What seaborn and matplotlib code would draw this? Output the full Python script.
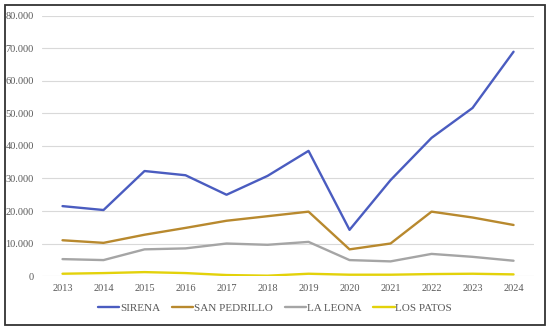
import pandas as pd
import matplotlib
matplotlib.use("Agg")
import matplotlib.pyplot as plt
import seaborn as sns
from matplotlib.ticker import FuncFormatter
from matplotlib.patches import Rectangle

years = [str(y) for y in range(2013, 2025)]
sirena = [21500, 20300, 32300, 31000, 25000, 30800, 38500, 14200, 29500, 42500, 51700, 69000]
san_pedrillo = [11000, 10200, 12700, 14800, 17000, 18400, 19800, 8200, 10000, 19800, 18000, 15700]
la_leona = [5200, 4900, 8200, 8500, 10000, 9600, 10500, 4900, 4500, 6800, 5900, 4700]
los_patos = [700, 900, 1200, 900, 300, 100, 700, 400, 400, 600, 700, 500]

series = ["SIRENA", "SAN PEDRILLO", "LA LEONA", "LOS PATOS"]
colors = ["#4a5cc0", "#b8892e", "#a5a5a5", "#e3d20a"]

df = pd.DataFrame({"year": years * 4,
                   "value": sirena + san_pedrillo + la_leona + los_patos,
                   "station": sum([[s] * len(years) for s in series], [])})

sns.set_theme(style="white")
plt.rcParams["font.family"] = ["Liberation Serif", "DejaVu Serif"]

fig = plt.figure(figsize=(5.5, 3.3), dpi=100)
ax = fig.add_axes([0.0764, 0.1636, 0.8946, 0.788])

sns.lineplot(data=df, x="year", y="value", hue="station", palette=colors,
             linewidth=1.7, ax=ax, legend=True)

ax.set_xlim(-0.5, 11.5)
ax.set_ylim(0, 80000)
ax.set_yticks(range(0, 80001, 10000))
ax.yaxis.set_major_formatter(FuncFormatter(lambda v, p: f"{int(v):,}".replace(",", ".")))
ax.grid(axis="y", color="#d9d9d9", linewidth=0.8)
ax.set_axisbelow(True)
for s in ax.spines.values():
    s.set_visible(False)
ax.tick_params(axis="both", length=0, labelsize=7.5, colors="#595959", pad=6)
ax.set_xlabel("")
ax.set_ylabel("")

handles, labels = ax.get_legend_handles_labels()
ax.legend(handles, labels, ncol=4, frameon=False, loc="center",
          bbox_to_anchor=(0.5, 0.067), bbox_transform=fig.transFigure,
          fontsize=8, handlelength=1.9, handletextpad=0.05, columnspacing=1.1,
          labelcolor="#595959")

fig.patches.append(Rectangle((0.009, 0.015), 0.982, 0.97, transform=fig.transFigure,
                             fill=False, edgecolor="#333333", linewidth=1.3))

fig.savefig("out.png", dpi=100)
